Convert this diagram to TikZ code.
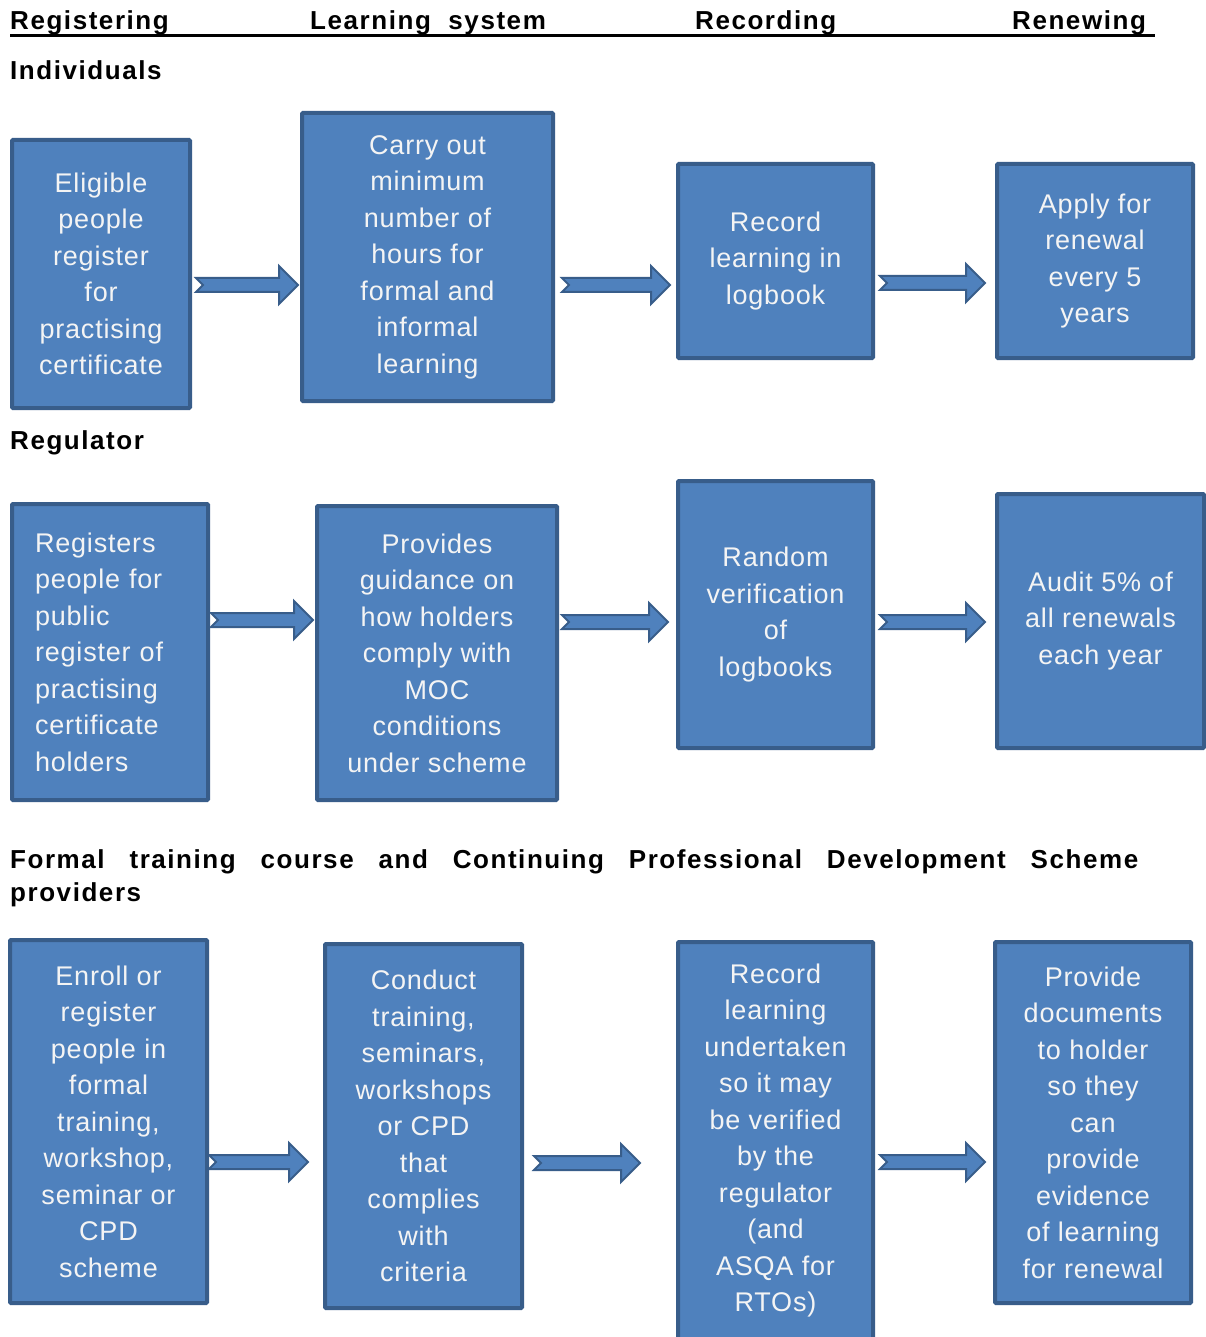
\documentclass[tikz,border=0pt]{standalone}
\usepackage{fontspec}
\setmainfont{Liberation Sans}
\newfontfamily\boxfont[LetterSpace=3]{Liberation Sans}
\newfontfamily\headfont[LetterSpace=6]{Liberation Sans}
\usetikzlibrary{calc}
\definecolor{boxblue}{HTML}{4F81BD}
\definecolor{boxedge}{HTML}{385D8A}
\definecolor{boxtext}{HTML}{F4F4F4}
\tikzset{
  box/.style={draw=boxedge, line width=4pt, fill=boxblue, text=boxtext,
    font=\boxfont\fontsize{27}{36.5}\selectfont, align=center,
    anchor=north west, inner sep=0pt, rounded corners=1pt},
  arr/.style={draw=boxedge, line width=2pt, fill=boxblue, line join=miter},
  head/.style={font=\headfont\bfseries\fontsize{26}{30}\selectfont,
    anchor=base west, inner sep=0pt},
}
% #1 from node, #2 to node, #3 y (px), #4 start gap, #5 end gap
\newcommand\flowarrow[5]{%
  \path[arr] let \p1=(#1.east), \p2=(#2.west), \p3=(0,#3) in
    (\x1+#4pt,\y3+7pt) -- (\x2-#5pt-19pt,\y3+7pt) -- (\x2-#5pt-19pt,\y3+19pt)
    -- (\x2-#5pt,\y3) -- (\x2-#5pt-19pt,\y3-19pt) -- (\x2-#5pt-19pt,\y3-7pt)
    -- (\x1+#4pt,\y3-7pt) -- (\x1+#4pt+7pt,\y3) -- cycle;}
\begin{document}
\begin{tikzpicture}[x=1pt,y=-1pt]
\useasboundingbox (0,0) rectangle (1205,1337);
\fill[white] (0,0) rectangle (1205,1337);

% column headers
\node[head] (hreg) at (10,30) {Registering};
\node[head] (hlearn) at (310,30) {Learning\ \ system};
\node[head] (hrec) at (695,30) {Recording};
\node[head] (hren) at (1012,30) {Renewing};
\draw[line width=3pt] (10,36) -- (1155,36);

% section headings
\node[head] (sind) at (10,80) {Individuals};
\node[head] (sreg) at (10,449) {Regulator};
\node[head] (sfor) at (10,868) {\makebox[1128pt][s]{Formal training course and Continuing Professional Development Scheme}};
\node[head] (sprov) at (10,901) {providers};

% row 1: individuals
\node[box, minimum width=178, minimum height=268] (b1) at (10,138)
  {Eligible\\people\\register\\for\\practising\\certificate};
\node[box, minimum width=251, minimum height=288] (b2) at (300,111)
  {Carry out\\minimum\\number of\\hours for\\formal and\\informal\\learning};
\node[box, minimum width=195, minimum height=194] (b3) at (676,162)
  {Record\\learning in\\logbook};
\node[box, minimum width=196, minimum height=194] (b4) at (995,162)
  {Apply for\\renewal\\every 5\\years};
\flowarrow{b1}{b2}{285}{4}{2}
\flowarrow{b2}{b3}{285}{7}{6}
\flowarrow{b3}{b4}{283}{5}{10}

% row 2: regulator
\node[box, minimum width=196, minimum height=296, text width=150, align=left] (c1) at (10,502)
  {Registers\\people for\\public\\register of\\practising\\certificate\\holders};
\node[box, minimum width=240, minimum height=294] (c2) at (315,504)
  {Provides\\guidance on\\how holders\\comply with\\MOC\\conditions\\under scheme};
\node[box, minimum width=195, minimum height=267] (c3) at (676,479)
  {Random\\verification\\of\\logbooks};
\node[box, minimum width=207, minimum height=254] (c4) at (995,492)
  {Audit 5\% of\\all renewals\\each year};
\flowarrow{c1}{c2}{620}{1}{2}
\flowarrow{c2}{c3}{622}{3}{8}
\flowarrow{c3}{c4}{622}{5}{10}

% row 3: providers
\node[box, minimum width=197, minimum height=363] (d1) at (8,938)
  {Enroll or\\register\\people in\\formal\\training,\\workshop,\\seminar or\\CPD\\scheme};
\node[box, minimum width=197, minimum height=364] (d2) at (323,942)
  {Conduct\\training,\\seminars,\\workshops\\or CPD\\that\\complies\\with\\criteria};
\node[box, minimum width=195, minimum height=397] (d3) at (676,940)
  {Record\\learning\\undertaken\\so it may\\be verified\\by the\\regulator\\(and\\ASQA for\\RTOs)};
\node[box, minimum width=196, minimum height=361] (d4) at (993,940)
  {Provide\\documents\\to holder\\so they\\can\\provide\\evidence\\of learning\\for renewal};
\flowarrow{d1}{d2}{1162}{0}{15}
\flowarrow{d2}{d3}{1163}{10}{36}
\flowarrow{d3}{d4}{1162}{5}{8}
\end{tikzpicture}
\end{document}
